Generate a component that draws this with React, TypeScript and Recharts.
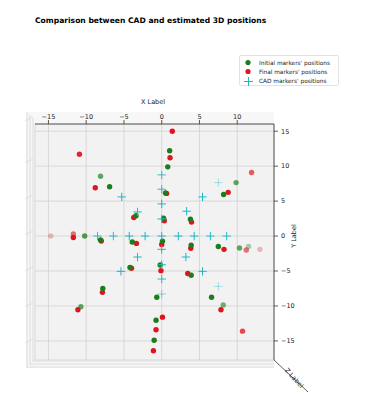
import { ScatterChart, Scatter, XAxis, YAxis, CartesianGrid } from "recharts";

const xTicks = [-15, -10, -5, 0, 5, 10];
const yTicks = [-15, -10, -5, 0, 5, 10, 15];

// initial (green) estimates, depth is used only for the 3D-like fading
const initialX = [-8.1, -6.9, -3.4, -10.2, -8.1, -3.9, -4.2, -7.8, -10.7, 1.05, 0.8, 0.5, 0.25, 3.8, 9.85, 8.2, 0.1, 3.9, -0.2, 3.9, 7.5, 10.3, 11.5, 6.6, 8.15, -0.65, -0.75, -1.0];
const initialY = [8.55, 7.05, 2.9, 0, -0.57, -0.85, -4.5, -7.5, -10.1, 12.2, 9.9, 6.15, 2.55, 2.4, 7.65, 5.95, -0.75, -1.3, -4.15, -5.6, -1.5, -1.7, -1.5, -8.75, -9.85, -8.75, -12.05, -14.9];
const initialDepth = [-4, 0, 0, -3, 0, 0, 0, 0, -4, 0, 0, 0, 0, 0, -4, 0, 0, 0, 0, 0, 0, -4, -8, 0, -5, 0, 0, 0];

// final (red) estimates
const finalX = [1.4, -10.9, 1.1, -8.8, 0.65, -3.7, 0.35, 3.95, 11.9, 8.8, -14.7, -11.7, -11.7, -8.0, -3.35, 0, 3.85, -4.0, -0.1, 3.45, 8.25, 11.2, 13.0, -7.85, -11.1, 7.85, 10.7, 0.1, -0.75, -1.1];
const finalY = [15.0, 11.7, 11.2, 6.9, 6.1, 2.65, 2.2, 2.0, 9.1, 6.25, 0, 0.3, -0.2, -0.7, -1.05, -1.2, -1.75, -4.6, -4.95, -5.35, -1.9, -2.0, -1.9, -8.05, -10.55, -10.55, -13.6, -11.6, -13.4, -16.4];
const finalDepth = [0, -1, 0, 0, 0, 0, 0, 0, -4, 0, -9, -5, 0, 0, 0, 0, 0, 0, 0, 0, 0, -5, -9, 0, 0, 0, -3, 0, 0, 0];

// CAD reference markers
const cadX = [-8.5, -6.4, -4.3, -2.2, 0, 2.2, 4.3, 6.45, 8.6, 0, 0, 0, 0, 0, 0, 0, 0, -5.3, -3.2, 3.3, 5.4, -3.2, -5.4, 3.2, 5.4, 7.5, 7.5];
const cadY = [0, 0, 0, 0, 0, 0, 0, 0, 0, 8.75, 6.7, 4.6, 2.45, -1.9, -4.1, -6.15, -8.3, 5.6, 3.45, 3.55, 5.6, -3.0, -5.05, -3.0, -5.05, 7.65, -7.2];
const cadDepth = [-1, -1, 0, 0, 0, 0, 0, -1, -1, -2, -1, 0, 0, 0, 0, -1, -6, 0, 0, 0, 0, 0, 0, 0, 0, -8, -8];

const toPoints = (xs: number[], ys: number[], ds: number[]) =>
  xs.map((x, i) => ({ x, y: ys[i], depth: ds[i] }));

const initialData = toPoints(initialX, initialY, initialDepth);
const finalData = toPoints(finalX, finalY, finalDepth);
const cadData = toPoints(cadX, cadY, cadDepth);

const GREEN = "#1b7d1b";
const RED = "#e0141e";
const CYAN = "#1cb8c6";
const FONT = "DejaVu Sans, sans-serif";

const shade = (d: number) => Math.max(0.28, 1 + d * 0.08);
const fmt = (v: number) => String(v).replace("-", "\u2212");

const dot = (color: string) => (props: any) => {
  const { cx, cy, payload } = props;
  if (cx == null || cy == null) return <g />;
  return <circle cx={cx} cy={cy} r={2.7} fill={color} fillOpacity={shade(payload.depth)} />;
};

const plus = (props: any) => {
  const { cx, cy, payload } = props;
  if (cx == null || cy == null) return <g />;
  const o = shade(payload.depth);
  return (
    <g stroke={CYAN} strokeWidth={1} strokeOpacity={o}>
      <line x1={cx - 4.2} y1={cy} x2={cx + 4.2} y2={cy} />
      <line x1={cx} y1={cy - 4.2} x2={cx} y2={cy + 4.2} />
    </g>
  );
};

const tickStyle = { fontSize: 6.5, fill: "#222", fontFamily: FONT };

const legendRows = [
  { label: "Initial markers' positions", color: GREEN, kind: "dot" },
  { label: "Final markers' positions", color: RED, kind: "dot" },
  { label: "CAD markers' positions", color: CYAN, kind: "plus" },
];

const App = () => {
  return (
    <div style={{ position: "absolute", left: 0, top: 0, width: 367, height: 413, background: "#fff", fontFamily: FONT }}>
      {/* 3D pane edges */}
      <svg width={367} height={413} style={{ position: "absolute", left: 0, top: 0 }}>
        <rect x={26} y={112} width={248} height={256} fill="#f7f7f7" />
        {[27, 30, 33].map((x) => (
          <line key={x} x1={x} y1={112 + (x - 27)} x2={x} y2={368 - (x - 27)} stroke="#d6d6d6" strokeWidth={0.8} />
        ))}
        {[361, 364, 367].map((y) => (
          <line key={y} x1={27 + (367 - y)} y1={y} x2={274} y2={y} stroke="#d6d6d6" strokeWidth={0.8} />
        ))}
        {[118, 160, 196, 232, 268, 304, 340].map((y) => (
          <line key={y} x1={25} y1={y + 3} x2={33} y2={y - 1} stroke="#d0d0d0" strokeWidth={0.6} />
        ))}
        <line x1={274} y1={360} x2={308} y2={392} stroke="#333" strokeWidth={0.8} />
      </svg>

      <div style={{ position: "absolute", left: 35, top: 16, fontSize: 7.6, fontWeight: "bold", color: "#000", whiteSpace: "nowrap" }}>
        Comparison between CAD and estimated 3D positions
      </div>

      <div
        style={{
          position: "absolute",
          left: 239,
          top: 55,
          width: 100,
          height: 31,
          border: "1px solid #e2e2e2",
          borderRadius: 2,
          background: "rgba(255,255,255,0.9)",
          boxSizing: "border-box",
        }}
      >
        {legendRows.map((r, i) => (
          <div key={r.label} style={{ position: "absolute", left: 4, top: 2 + i * 9.3, height: 9, display: "flex", alignItems: "center" }}>
            <svg width={12} height={9}>
              {r.kind === "dot" ? (
                <circle cx={4} cy={4.5} r={2.6} fill={r.color} />
              ) : (
                <g stroke={r.color} strokeWidth={1}>
                  <line x1={0} y1={4.5} x2={9} y2={4.5} />
                  <line x1={4.5} y1={0} x2={4.5} y2={9} />
                </g>
              )}
            </svg>
            <span style={{ fontSize: 5.8, color: "#222", marginLeft: 3, whiteSpace: "nowrap" }}>{r.label}</span>
          </div>
        ))}
      </div>

      <div style={{ position: "absolute", left: 141, top: 98, fontSize: 6.5, color: "#222" }}>X Label</div>
      <div
        style={{
          position: "absolute",
          left: 282,
          top: 232,
          fontSize: 6.5,
          color: "#222",
          transform: "rotate(-90deg)",
          transformOrigin: "center",
          whiteSpace: "nowrap",
        }}
      >
        Y Label
      </div>
      <div
        style={{
          position: "absolute",
          left: 282,
          top: 374,
          fontSize: 6.5,
          color: "#222",
          transform: "rotate(48deg)",
          whiteSpace: "nowrap",
        }}
      >
        Z Label
      </div>

      <div style={{ position: "absolute", left: 0, top: 0 }}>
        <ScatterChart width={367} height={413} margin={{ top: 104, left: 35, right: 68, bottom: 53 }}>
          <CartesianGrid stroke="#d2d2d2" strokeWidth={0.8} fill="#f2f2f2" />
          <XAxis
            type="number"
            dataKey="x"
            orientation="top"
            domain={[-16.78, 14.87]}
            ticks={xTicks}
            allowDataOverflow
            height={20}
            tick={tickStyle}
            tickFormatter={fmt}
            tickSize={4}
            tickMargin={1}
            stroke="#333"
            strokeWidth={0.8}
          />
          <YAxis
            type="number"
            dataKey="y"
            orientation="right"
            domain={[-17.73, 16.03]}
            ticks={yTicks}
            allowDataOverflow
            width={25}
            tick={tickStyle}
            tickFormatter={fmt}
            tickSize={4}
            tickMargin={3}
            stroke="#333"
            strokeWidth={0.8}
          />
          <Scatter data={finalData} shape={dot(RED)} isAnimationActive={false} />
          <Scatter data={initialData} shape={dot(GREEN)} isAnimationActive={false} />
          <Scatter data={cadData} shape={plus} isAnimationActive={false} />
        </ScatterChart>
      </div>
    </div>
  );
};

export default App;
